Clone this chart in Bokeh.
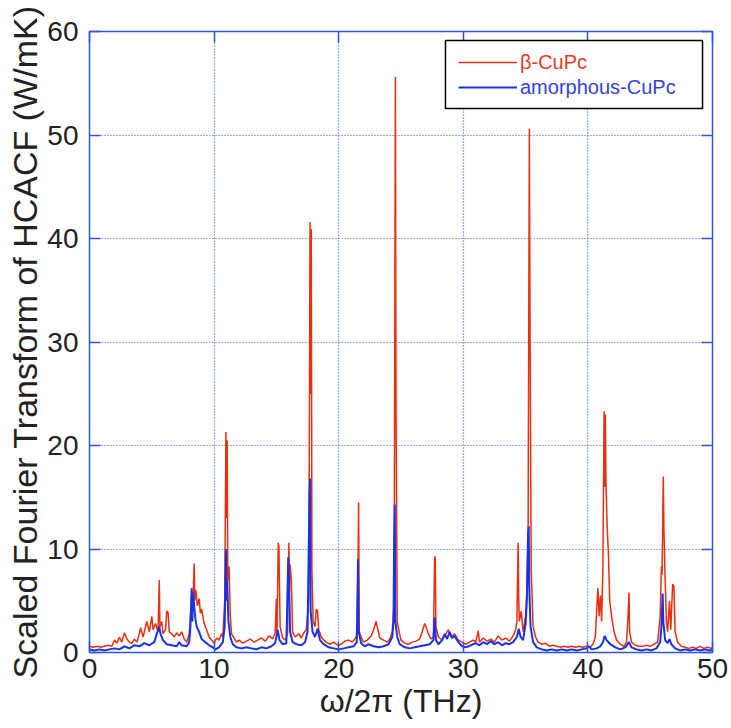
from bokeh.plotting import figure
from bokeh.models import (Range1d, FixedTicker, LinearAxis, Legend, LegendItem,
                          BoxAnnotation)
from bokeh.embed import file_html
from bokeh.resources import INLINE

# ---------------- data ----------------
x_ticks = [0, 10, 20, 30, 40, 50]
y_ticks = [0, 10, 20, 30, 40, 50, 60]

beta_label = "β-CuPc"
amor_label = "amorphous-CuPc"

beta_x = [0.0, 0.3, 0.6, 0.9, 1.2, 1.5, 1.8, 2.0, 2.2, 2.4, 2.6, 2.8, 3.0, 3.2, 3.4, 3.6, 3.8,
          4.0, 4.1, 4.3, 4.5, 4.6, 4.8, 5.0, 5.1, 5.3, 5.5, 5.6, 5.65, 5.8, 5.9, 6.1, 6.2, 6.3,
          6.4, 6.6, 6.8, 7.0, 7.2, 7.4, 7.6, 7.8, 8.0, 8.1, 8.2, 8.3, 8.4, 8.45, 8.55, 8.65,
          8.8, 8.9, 9.0, 9.2, 9.4, 9.6, 9.8, 10.0, 10.2, 10.4, 10.6, 10.7, 10.85, 10.95, 11.0,
          11.05, 11.1, 11.2, 11.3, 11.4, 11.6, 11.8, 12.0, 12.3, 12.6, 12.9, 13.2, 13.5, 13.8,
          14.1, 14.4, 14.7, 14.9, 15.0, 15.05, 15.15, 15.2, 15.3, 15.5, 15.7, 15.9, 16.0,
          16.05, 16.1, 16.2, 16.3, 16.5, 16.8, 17.0, 17.2, 17.4, 17.6, 17.7, 17.75, 17.8,
          17.85, 17.95, 18.1, 18.2, 18.3, 18.4, 18.6, 18.8, 19.0, 19.3, 19.6, 19.9, 20.2,
          20.5, 20.8, 21.1, 21.4, 21.5, 21.6, 21.65, 21.8, 22.0, 22.3, 22.6, 22.8, 23.0,
          23.1, 23.3, 23.6, 23.9, 24.1, 24.3, 24.45, 24.55, 24.6, 24.7, 24.85, 25.0, 25.3,
          25.6, 25.9, 26.2, 26.5, 26.7, 26.9, 27.0, 27.2, 27.4, 27.6, 27.7, 27.75, 27.8,
          28.0, 28.3, 28.6, 28.8, 29.0, 29.3, 29.6, 29.9, 30.2, 30.5, 30.8, 31.0, 31.2, 31.3,
          31.6, 31.9, 32.2, 32.5, 32.8, 33.1, 33.4, 33.7, 34.0, 34.2, 34.3, 34.4, 34.45,
          34.5, 34.65, 34.8, 35.0, 35.1, 35.2, 35.3, 35.35, 35.45, 35.6, 35.8, 36.0, 36.3,
          36.6, 36.9, 37.2, 37.5, 37.8, 38.1, 38.4, 38.7, 39.0, 39.3, 39.6, 39.9, 40.2, 40.4,
          40.6, 40.7, 40.8, 40.9, 41.0, 41.1, 41.2, 41.3, 41.35, 41.4, 41.45, 41.55, 41.65,
          41.75, 41.9, 42.1, 42.3, 42.6, 42.9, 43.1, 43.2, 43.3, 43.35, 43.5, 43.8, 44.1,
          44.4, 44.7, 45.0, 45.3, 45.6, 45.8, 45.9, 45.95, 46.05, 46.1, 46.2, 46.3, 46.4,
          46.55, 46.65, 46.8, 46.9, 47.0, 47.2, 47.5, 47.8, 48.1, 48.4, 48.7, 49.0, 49.3,
          49.6, 49.9, 50.0]
beta_y = [0.6, 0.5, 0.6, 0.5, 0.6, 0.7, 0.6, 1.2, 0.9, 1.5, 1.0, 1.9, 1.3, 1.0, 0.9, 1.3, 1.0,
          1.8, 2.4, 1.5, 2.5, 3.0, 2.0, 3.5, 2.2, 2.8, 2.0, 7.0, 2.5, 3.0, 1.8, 2.2, 4.0, 3.9,
          2.0, 1.8, 1.5, 1.9, 1.6, 2.0, 1.3, 1.0, 1.8, 3.5, 5.5, 4.8, 8.6, 5.0, 6.0, 4.5,
          5.2, 3.8, 4.2, 2.8, 2.2, 1.5, 1.2, 0.9, 1.4, 1.2, 1.8, 1.5, 5.0, 21.3, 13.0,
          20.5, 7.0, 8.3, 3.5, 1.8, 1.4, 1.0, 1.2, 0.9, 1.1, 1.3, 1.0, 1.2, 1.4,
          1.1, 1.6, 1.3, 1.9, 5.2, 2.0, 10.6, 10.3, 2.5, 1.4, 1.2, 1.8, 10.6,
          6.0, 8.5, 7.0, 2.0, 1.5, 1.8, 1.4, 1.9, 2.2, 5.0, 41.6, 25.0, 40.9,
          8.0, 3.0, 2.5, 4.2, 4.0, 2.2, 1.5, 1.2, 1.0, 0.8, 1.0, 0.7, 0.8,
          1.1, 1.2, 1.0, 1.5, 2.5, 14.5, 2.0, 1.5, 1.0, 1.2, 1.6, 2.2, 3.0,
          2.4, 1.4, 1.2, 1.0, 1.3, 2.0, 5.0, 55.6, 23.8, 3.0, 2.0, 1.2, 0.9,
          0.8, 1.0, 1.1, 1.3, 2.0, 2.8, 2.5, 1.8, 1.3, 1.5, 9.0, 9.3, 2.5,
          1.5, 1.2, 1.8, 2.2, 1.5, 1.8, 1.2, 1.0, 0.8, 1.0, 1.2, 1.0, 2.1, 1.0,
          1.4, 1.1, 1.3, 1.0, 1.6, 1.2, 1.4, 1.1, 1.6, 2.2, 3.0, 10.6, 5.0,
          3.0, 4.0, 2.0, 3.5, 6.0, 11.0, 50.6, 33.0, 8.0, 2.5, 1.5, 1.0, 0.8,
          0.9, 0.6, 0.7, 0.6, 0.5, 0.6, 0.5, 0.6, 0.5, 0.6, 0.5, 0.6, 0.5, 0.8,
          1.5, 4.0, 6.2, 3.5, 5.5, 3.0, 8.0, 23.3, 16.0, 23.0, 16.3, 12.0, 9.5,
          5.0, 3.5, 2.0, 1.2, 0.8, 0.6, 1.0, 3.0, 5.8, 2.0, 1.0, 0.7, 0.6,
          0.6, 0.7, 0.6, 0.8, 1.0, 3.5, 8.3, 7.5, 17.0, 12.0, 7.0, 3.0, 2.0,
          5.0, 2.2, 6.6, 6.4, 2.0, 1.0, 0.6, 0.5, 0.4, 0.5, 0.4, 0.6, 0.4,
          0.5, 0.4, 0.5]

amor_x = [0.0, 0.4, 0.8, 1.2, 1.6, 2.0, 2.4, 2.8, 3.2, 3.6, 4.0, 4.4, 4.8, 5.2, 5.4, 5.6, 5.7,
          5.9, 6.2, 6.6, 7.0, 7.2, 7.4, 7.8, 8.0, 8.1, 8.2, 8.25, 8.3, 8.4, 8.5, 8.6, 8.8, 9.0,
          9.3, 9.6, 9.9, 10.1, 10.4, 10.7, 10.85, 10.95, 11.0, 11.05, 11.15, 11.3, 11.5,
          11.8, 12.2, 12.6, 13.0, 13.4, 13.8, 14.2, 14.6, 14.9, 15.1, 15.25, 15.5, 15.8,
          15.95, 16.0, 16.1, 16.3, 16.6, 17.0, 17.3, 17.5, 17.65, 17.7, 17.75, 17.9, 18.1,
          18.3, 18.5, 18.8, 19.2, 19.6, 20.0, 20.4, 20.8, 21.2, 21.45, 21.55, 21.6, 21.8,
          22.1, 22.4, 22.8, 23.2, 23.6, 24.0, 24.3, 24.4, 24.45, 24.5, 24.55, 24.7, 24.9,
          25.3, 25.7, 26.1, 26.5, 26.9, 27.3, 27.6, 27.72, 27.8, 28.0, 28.3, 28.5, 28.7,
          28.9, 29.1, 29.3, 29.6, 29.9, 30.2, 30.6, 31.0, 31.3, 31.6, 31.9, 32.2, 32.5,
          32.8, 33.1, 33.4, 33.7, 34.0, 34.3, 34.45, 34.6, 34.8, 35.0, 35.1, 35.2, 35.25,
          35.3, 35.4, 35.6, 35.9, 36.3, 36.7, 37.1, 37.5, 37.9, 38.3, 38.7, 39.1, 39.5,
          39.9, 40.1, 40.3, 40.7, 41.0, 41.2, 41.35, 41.5, 41.8, 42.2, 42.6, 43.0, 43.3,
          43.5, 43.9, 44.3, 44.7, 45.1, 45.5, 45.8, 45.9, 46.0, 46.05, 46.2, 46.4, 46.55,
          46.7, 47.0, 47.4, 47.8, 48.2, 48.6, 49.0, 49.4, 49.8, 50.0]
amor_y = [0.3, 0.2, 0.3, 0.2, 0.3, 0.4, 0.3, 0.6, 0.4, 0.7, 0.6, 0.9, 0.7, 1.0, 1.8, 2.5, 1.8,
          1.2, 0.8, 0.7, 0.6, 1.0, 0.7, 0.6, 1.0, 2.5, 6.2, 3.0, 5.8, 4.5, 3.2, 2.5, 2.0, 1.3,
          1.0, 0.7, 0.5, 0.3, 0.5, 1.0, 2.5, 10.0, 5.0, 7.0, 3.0, 1.5, 0.8,
          0.5, 0.4, 0.5, 0.4, 0.3, 0.5, 0.4, 0.6, 0.9, 2.2, 1.2, 0.8, 0.9,
          9.2, 7.7, 2.0, 1.0, 0.8, 0.7, 1.0, 2.0, 14.6, 16.8, 4.0, 2.0, 1.5,
          2.3, 1.2, 0.8, 0.5, 0.4, 0.3, 0.4, 0.5, 0.6, 1.0, 9.0, 2.0, 0.9,
          0.6, 0.8, 0.6, 0.5, 0.6, 0.8, 1.5, 3.0, 11.3, 14.3, 3.0, 1.5, 0.8,
          0.5, 0.4, 0.5, 0.6, 0.7, 0.8, 1.2, 3.4, 1.2, 0.8, 1.2, 1.8, 1.3,
          2.0, 1.4, 1.6, 1.0, 0.6, 0.5, 0.7, 0.9, 0.7, 1.0, 0.8, 1.1, 0.8,
          1.0, 0.7, 0.9, 0.8, 1.0, 1.5, 2.3, 1.5, 1.2, 2.8, 5.0, 11.6, 12.2,
          6.0, 2.5, 1.0, 0.5, 0.3, 0.2, 0.3, 0.2, 0.3, 0.2, 0.3, 0.2, 0.3,
          0.4, 0.6, 0.3, 0.4, 0.6, 1.0, 1.6, 1.2, 0.8, 0.5, 0.3, 0.5, 1.0,
          0.5, 0.3, 0.2, 0.3, 0.2, 0.4, 1.0, 2.5, 5.7, 3.0, 1.2, 0.9, 1.3,
          0.8, 0.4, 0.2, 0.3, 0.2, 0.3, 0.2, 0.3, 0.2, 0.3]

# ---------------- style ----------------
RED = "#e8300e"
BLUE = "#1a32e6"
FRAME_BLUE = "#2f55e8"
TEXT = "#222222"
FONT = "Liberation Sans"

p = figure(width=731, height=728, output_backend="svg", toolbar_location=None,
           x_range=Range1d(0, 50), y_range=Range1d(0, 60),
           min_border_left=89, min_border_right=19, min_border_top=31,
           min_border_bottom=76, background_fill_color="white",
           border_fill_color="white")

r_beta = p.line(beta_x, beta_y, line_color=RED, line_width=1.5)
r_amor = p.line(amor_x, amor_y, line_color=BLUE, line_width=2)

p.outline_line_color = FRAME_BLUE
p.outline_line_width = 1.5
p.outline_line_alpha = 1

for g in (p.xgrid[0], p.ygrid[0]):
    g.grid_line_color = FRAME_BLUE
    g.grid_line_dash = "1 2"
    g.grid_line_width = 1.2
    g.grid_line_alpha = 1

p.xgrid[0].ticker = FixedTicker(ticks=x_ticks)
p.ygrid[0].ticker = FixedTicker(ticks=y_ticks)


def style_axis(ax, ticks, show_labels):
    ax.ticker = FixedTicker(ticks=ticks)
    ax.axis_line_color = None
    ax.major_tick_in = 11
    ax.major_tick_out = 0
    ax.major_tick_line_color = FRAME_BLUE
    ax.major_tick_line_width = 1.5
    ax.minor_tick_line_color = None
    ax.major_label_text_font = FONT
    ax.major_label_text_color = TEXT
    ax.axis_label_text_font = FONT
    ax.axis_label_text_color = TEXT
    ax.axis_label_text_font_style = "normal"
    if show_labels:
        ax.major_label_text_font_size = "28px"
        ax.axis_label_text_font_size = "34px"
    else:
        ax.major_label_text_font_size = "0px"
        ax.major_label_standoff = 0


xa = p.xaxis[0]
ya = p.yaxis[0]
style_axis(xa, x_ticks, True)
style_axis(ya, y_ticks, True)
xa.axis_label = "ω/2π (THz)"
ya.axis_label = "Scaled Fourier Transform of HCACF (W/mK)"
xa.major_label_standoff = 6
xa.axis_label_standoff = 2
xa.axis_label_text_font_size = "32px"
ya.major_label_standoff = 11
ya.axis_label_standoff = 0

top_ax = LinearAxis()
right_ax = LinearAxis()
style_axis(top_ax, x_ticks, False)
style_axis(right_ax, y_ticks, False)
p.add_layout(top_ax, "above")
p.add_layout(right_ax, "right")

# legend frame
box = BoxAnnotation(left=28.57, right=49.2, bottom=52.56, top=59.13,
                    fill_color="white", fill_alpha=1,
                    line_color="black", line_width=1.5, line_alpha=1)
p.add_layout(box)


def make_legend(item_label, renderer, color, loc):
    lg = Legend(items=[LegendItem(label=item_label, renderers=[renderer])],
                location=loc, padding=0, spacing=0, margin=0,
                glyph_width=59, glyph_height=26, label_height=26,
                label_standoff=3, border_line_color=None,
                background_fill_alpha=0, label_text_color=color,
                label_text_font=FONT, label_text_font_size="20px")
    return lg


p.add_layout(make_legend(beta_label, r_beta, "#ee3a22", (369, 577)), "center")
p.add_layout(make_legend(amor_label, r_amor, "#3344dd", (369, 552)), "center")

open("out.html", "w").write(file_html(p, INLINE))
